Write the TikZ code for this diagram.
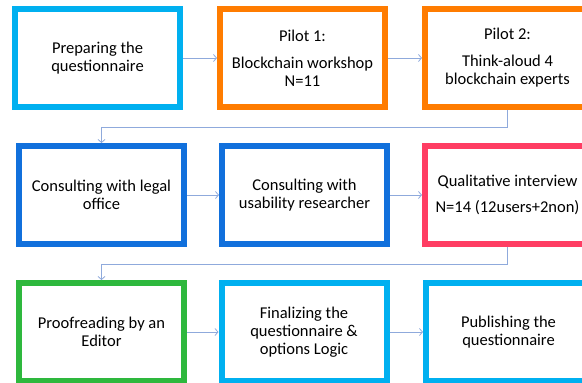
\documentclass[tikz,border=0pt]{standalone}
\usepackage{fontspec}
\setmainfont{Carlito}
\usetikzlibrary{arrows.meta}
\definecolor{skyblue}{HTML}{00B0F0}
\definecolor{pilotorange}{HTML}{FF7C00}
\definecolor{deepblue}{HTML}{1170DC}
\definecolor{rosered}{HTML}{FF3D63}
\definecolor{leafgreen}{HTML}{2EB83D}
\definecolor{linkblue}{HTML}{8FAADC}
\begin{document}
\begin{tikzpicture}[x=1pt, y=-1pt,
        box/.style = {shape=rectangle, draw, line width=6pt,
            minimum width=165pt, minimum height=98pt, align=center,
            font=\fontsize{16.5}{18}\selectfont, fill=white},
        link/.style = {draw=linkblue, line width=0.8pt,
            -{Straight Barb[length=3pt,width=7pt]}}]
    \useasboundingbox (0,0) rectangle (582,383);
    % first row
    \node[box, draw=skyblue] (prep) at (97.5,58) {Preparing the\\questionnaire};
    \node[box, draw=pilotorange] (pilot1) at (302.5,58) {Pilot 1:\\[9pt]Blockchain workshop\\N=11};
    \node[box, draw=pilotorange] (pilot2) at (507.5,58) {Pilot 2:\\[9pt]Think-aloud 4\\blockchain experts};
    % second row
    \node[box, draw=deepblue] (legal) at (101.5,195) {Consulting with legal\\office};
    \node[box, draw=deepblue] (usab) at (304.5,195) {Consulting with\\usability researcher};
    \node[box, draw=rosered] (qual) at (507.5,195) {Qualitative interview\\[8pt]N=14 (12users+2non)};
    % third row
    \node[box, draw=leafgreen] (proof) at (101.5,332) {Proofreading by an\\Editor};
    \node[box, draw=skyblue] (final) at (304,332) {Finalizing the\\questionnaire \&\\options Logic};
    \node[box, draw=skyblue] (publ) at (508.5,332) {Publishing the\\questionnaire};

    \draw[link] (prep) -- (pilot1);
    \draw[link] (pilot1) -- (pilot2);
    \draw[link] (pilot2.south) -- ++(0,17) -| (legal.north);
    \draw[link] (legal) -- (usab);
    \draw[link] (usab) -- (qual);
    \draw[link] (qual.south) -- ++(0,17) -| (proof.north);
    \draw[link] (proof) -- (final);
    \draw[link] (final) -- (publ);
\end{tikzpicture}
\end{document}
